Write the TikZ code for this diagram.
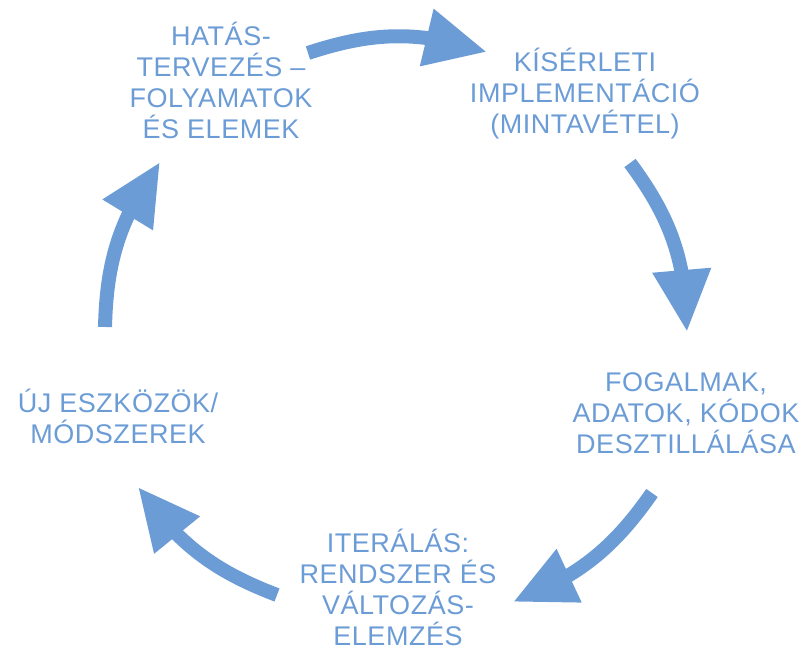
\documentclass[tikz,border=0pt]{standalone}
\usepackage{fontspec}
\setmainfont[LetterSpace=2]{Liberation Sans}
\usetikzlibrary{arrows.meta,bending}
\definecolor{cyc}{RGB}{108,156,214}
\begin{document}
\begin{tikzpicture}[x=1pt,y=1pt,
  lbl/.style={text=cyc, align=center, font=\fontsize{27}{31}\selectfont, inner sep=0pt},
  cycarrow/.style={draw=cyc, line width=14pt, -{Triangle[width=55pt,length=62pt,flex]}}]
\useasboundingbox (0,0) rectangle (804,650);
% labels
\node[lbl] (n1) at (221,570) {HATÁS-\\TERVEZÉS –\\FOLYAMATOK\\ÉS ELEMEK};
\node[lbl] (n2) at (585,556) {KÍSÉRLETI\\IMPLEMENTÁCIÓ\\(MINTAVÉTEL)};
\node[lbl] (n3) at (686,237) {FOGALMAK,\\ADATOK, KÓDOK\\DESZTILLÁLÁSA};
\node[lbl] (n4) at (118,234) {ÚJ ESZKÖZÖK/\\MÓDSZEREK};
\node[lbl] (n5) at (398,63) {ITERÁLÁS:\\RENDSZER ÉS\\VÁLTOZÁS-\\ELEMZÉS};
% arrow ends
\coordinate (t1) at (308,597); \coordinate (h1) at (487,598);
\coordinate (t2) at (630,487); \coordinate (h2) at (687,318);
\coordinate (t3) at (652,157); \coordinate (h3) at (513,48);
\coordinate (t4) at (277,55);  \coordinate (h4) at (138,163);
\coordinate (t5) at (105,323); \coordinate (h5) at (160,488);
% arrows
\draw[cycarrow] (t1) to[bend left=18] (h1);
\draw[cycarrow] (t2) to[bend left=18] (h2);
\draw[cycarrow] (t3) to[bend left=17] (h3);
\draw[cycarrow] (t4) to[bend left=17] (h4);
\draw[cycarrow] (t5) to[bend left=17] (h5);
\end{tikzpicture}
\end{document}
